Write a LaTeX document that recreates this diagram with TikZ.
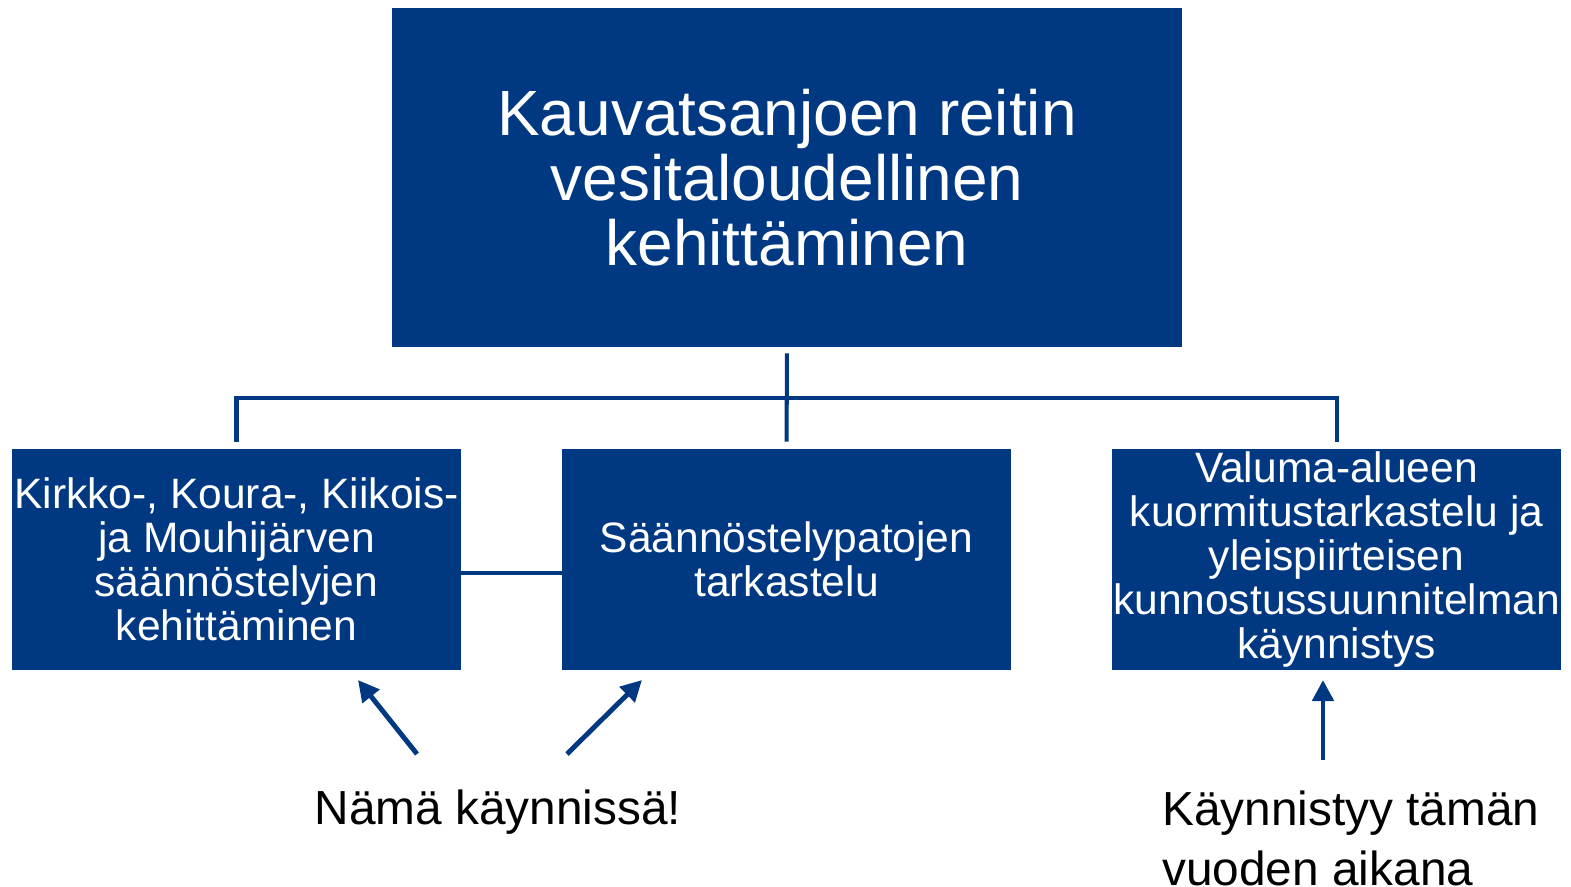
\documentclass[tikz,border=0pt]{standalone}
\usepackage{fontspec}
\setmainfont{Liberation Sans}
\usetikzlibrary{arrows.meta,positioning}
\definecolor{kblue}{RGB}{0,56,130}

\begin{document}
\begin{tikzpicture}[
  x=0.02cm, y=-0.02cm,
  >={Triangle[length=4.2mm,width=4.2mm]},
  mainbox/.style={fill=kblue,text=white,align=center,inner sep=0pt,
                  minimum width=15.8cm,minimum height=6.78cm,
                  font=\fontsize{36.4}{37}\selectfont},
  subbox/.style={fill=kblue,text=white,align=center,inner sep=0pt,
                 minimum width=8.98cm,minimum height=4.42cm,
                 font=\fontsize{24.2}{25}\selectfont},
  link/.style={draw=kblue,line width=2.3pt},
  hint/.style={->,draw=kblue,fill=kblue,line width=2.8pt},
  note/.style={align=left,inner sep=0pt,font=\fontsize{27.2}{34}\selectfont},
]
\useasboundingbox (0,0) rectangle (1571,886);

% --- nodes: main goal on top, three work packages below ---
\node[mainbox] (goal)   at (787,177.5) {Kauvatsanjoen reitin\\vesitaloudellinen\\kehittäminen};
\node[subbox]  (lakes)  at (236.5,559.5) {Kirkko-, Koura-, Kiikois-\\ja Mouhijärven\\säännöstelyjen\\kehittäminen};
\node[subbox]  (dams)   at (786.5,559.5) {Säännöstelypatojen\\tarkastelu};
\node[subbox]  (basin)  at (1336.5,559.5) {Valuma-alueen\\kuormitustarkastelu ja\\yleispiirteisen\\kunnostussuunnitelman\\käynnistys};

% --- tree connector ---
\coordinate (bar) at (787,398);
\draw[link,shorten <=0.12cm,shorten >=0.14cm] (goal.south) -- (dams.north);
\draw[link,shorten <=0.14cm,shorten >=0.14cm] (lakes.north) |- (bar) -| (basin.north);
\draw[link] ([yshift=-0.27cm]lakes.east) -- ([yshift=-0.27cm]dams.west);

% --- notes with their arrows ---
\node[note] (running) at (498,812) {Nämä käynnissä!};
\node[note,anchor=north west] (starts) at (1162,791) {Käynnistyy tämän\\vuoden aikana};

\coordinate (runL) at (417,754);
\coordinate (runR) at (567,754);
\coordinate (startT) at (1323,760);
\coordinate (tipL) at (358,680);
\coordinate (tipR) at (642,680);
\coordinate (tipC) at (1323,680);
\draw[hint] (runL) -- (tipL);
\draw[hint] (runR) -- (tipR);
\draw[hint] (startT) -- (tipC);

\end{tikzpicture}
\end{document}
